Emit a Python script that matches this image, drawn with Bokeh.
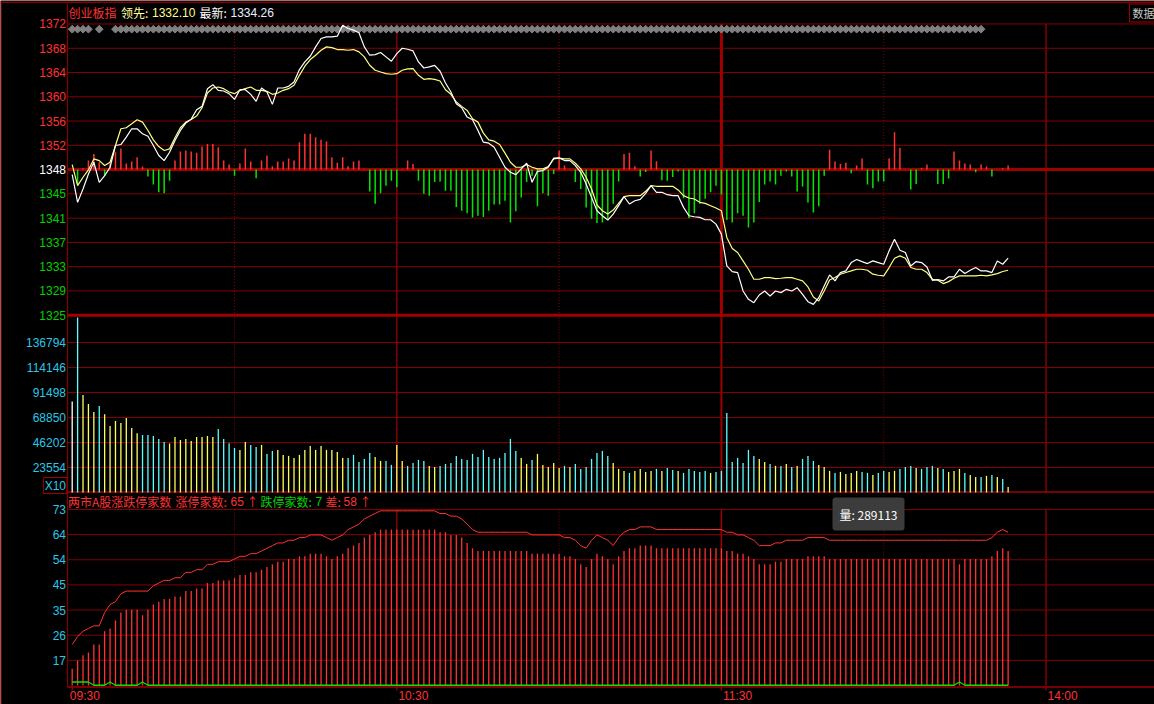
import numpy as np
from bokeh.plotting import figure
from bokeh.models import Range1d, Label
from bokeh.embed import file_html
from bokeh.resources import INLINE

# ---------------- data ----------------
index_name = "创业板指"
lead_text, lead_value = "领先:", "1332.10"
last_text, last_value = "最新:", "1334.26"
panel3_title = "两市A股涨跌停家数"
up_text, down_text, diff_text = "涨停家数:", "跌停家数:", "差:"
up_last, down_last, diff_last = "65", "7", "58"
tooltip_text = "量: 289113"
box_text = "数据"
vol_scale_text = "X10"

time_tick_idx = [0, 60, 120, 180]
time_tick_labels = ["09:30", "10:30", "11:30", "14:00"]
grid_dotted_idx = [30, 90, 150]
grid_solid_idx = [60, 180]
grid_break_idx = [120]

price_labels = ["1372", "1368", "1364", "1360", "1356", "1352", "1348",
                "1345", "1341", "1337", "1333", "1329", "1325"]
vol_labels = ["23554", "46202", "68850", "91498", "114146", "136794"]
cnt_labels = ["17", "26", "35", "45", "54", "64", "73"]

price = [1348.09, 1343.63, 1345.78, 1348.20, 1350.08, 1346.86, 1347.93, 1349.28, 1352.77, 1352.93,
         1354.11, 1355.46, 1355.46, 1354.65, 1354.27, 1352.77, 1351.16, 1350.35, 1351.69, 1353.57,
         1355.19, 1356.37, 1357.01, 1358.52, 1359.06, 1361.90, 1362.55, 1361.63, 1361.53, 1361.10,
         1360.18, 1361.74, 1361.74, 1360.99, 1359.86, 1362.01, 1361.37, 1359.38, 1362.01, 1362.01,
         1362.28, 1362.98, 1364.97, 1366.20, 1367.12, 1368.62, 1369.96, 1370.23, 1370.23, 1370.34,
         1372.11, 1371.58, 1371.31, 1370.88, 1368.62, 1367.28, 1367.38, 1367.71, 1367.01, 1366.31,
         1367.54, 1368.40, 1368.24, 1367.97, 1366.20, 1365.23, 1365.40, 1365.66, 1364.70, 1362.82,
         1361.37, 1359.49, 1358.84, 1357.34, 1356.91, 1355.19, 1353.31, 1353.15, 1352.50, 1350.89,
         1349.28, 1348.47, 1348.09, 1349.01, 1349.92, 1346.86, 1348.63, 1348.74, 1349.28, 1350.73,
         1350.78, 1350.35, 1350.35, 1349.54, 1348.47, 1346.59, 1344.44, 1342.29, 1341.48, 1340.79,
         1341.75, 1343.10, 1344.55, 1343.37, 1343.90, 1344.12, 1345.08, 1346.32, 1345.25, 1345.25,
         1344.87, 1344.71, 1344.71, 1342.83, 1341.48, 1341.32, 1341.22, 1340.84, 1340.84, 1340.14,
         1338.53, 1333.42, 1332.51, 1332.35, 1329.40, 1328.05, 1327.51, 1328.75, 1329.40, 1328.59,
         1329.40, 1329.13, 1329.66, 1329.40, 1329.93, 1328.86, 1327.67, 1327.24, 1328.32, 1330.20,
         1331.97, 1331.01, 1332.35, 1332.62, 1333.96, 1334.45, 1334.12, 1333.80, 1334.23, 1333.96,
         1333.69, 1335.84, 1337.72, 1335.95, 1335.57, 1333.42, 1334.12, 1333.96, 1333.26, 1331.11,
         1331.22, 1331.01, 1331.65, 1331.65, 1332.89, 1332.19, 1332.73, 1333.16, 1332.62, 1332.62,
         1332.35, 1334.23, 1333.69, 1334.66]

avg = [1349.71, 1346.32, 1347.67, 1348.85, 1350.62, 1350.35, 1349.55, 1350.09, 1352.77, 1355.46,
       1355.62, 1356.26, 1356.91, 1356.53, 1355.19, 1353.68, 1352.61, 1351.97, 1352.23, 1354.01,
       1355.62, 1356.53, 1356.96, 1357.50, 1358.84, 1361.21, 1362.01, 1362.17, 1361.91, 1361.37,
       1361.10, 1361.64, 1361.91, 1362.17, 1361.64, 1361.64, 1361.48, 1361.00, 1361.21, 1361.64,
       1361.91, 1362.44, 1364.05, 1365.51, 1366.58, 1367.28, 1368.08, 1368.62, 1368.51, 1368.19,
       1368.19, 1368.08, 1368.19, 1367.82, 1367.01, 1365.67, 1364.86, 1364.59, 1364.32, 1364.22,
       1364.32, 1364.86, 1365.08, 1365.13, 1364.05, 1363.41, 1363.52, 1363.41, 1363.14, 1361.74,
       1361.00, 1359.76, 1359.06, 1358.41, 1357.07, 1356.53, 1354.76, 1353.68, 1353.47, 1352.93,
       1351.54, 1350.09, 1349.28, 1349.28, 1349.71, 1349.28, 1349.01, 1349.01, 1349.39, 1350.62,
       1350.73, 1350.62, 1350.62, 1349.92, 1349.01, 1347.67, 1345.79, 1343.21, 1342.29, 1341.76,
       1342.40, 1343.48, 1344.55, 1344.71, 1344.71, 1344.71, 1345.41, 1346.32, 1346.22, 1346.22,
       1346.22, 1346.22, 1345.63, 1344.71, 1344.34, 1344.17, 1343.64, 1343.48, 1343.10, 1342.72,
       1342.29, 1337.99, 1336.22, 1335.58, 1334.23, 1332.89, 1331.28, 1331.28, 1331.55, 1331.55,
       1331.39, 1331.44, 1331.55, 1331.55, 1331.28, 1331.01, 1330.04, 1328.43, 1327.79, 1329.40,
       1331.17, 1331.55, 1332.09, 1332.36, 1332.62, 1332.89, 1332.89, 1332.73, 1332.09, 1331.92,
       1331.82, 1333.16, 1334.66, 1335.04, 1334.66, 1333.16, 1332.89, 1332.89, 1332.36, 1331.28,
       1331.12, 1330.58, 1330.90, 1331.44, 1331.82, 1331.82, 1331.82, 1331.82, 1331.92, 1331.82,
       1331.98, 1332.19, 1332.52, 1332.73]

force = [0, -2.3, 0.2, 1.45, 2.5, 1.2, -1.0, 1.0, 2.8, 3.4,
         1.0, 1.3, 2.0, 0.5, -1.1, -2.4, -3.65, -3.8, -1.8, 1.45,
         2.9, 3.06, 2.9, 2.7, 3.7, 4.1, 4.1, 3.6, 1.45, 0.8,
         -1.0, 1.0, 3.4, 1.3, -1.4, 1.45, 2.25, 0.54, 1.3, 1.3,
         1.8, 1.45, 4.4, 5.75, 5.75, 5.2, 4.8, 4.5, 2.0, 1.1,
         2.0, 0.54, 1.3, 1.45, 0.1, -3.5, -5.5, -3.8, -2.6, -1.8,
         -2.85, 0.1, 1.45, 0.9, -1.8, -3.9, -4.2, -2.0, -1.9, -3.4,
         -3.4, -6.0, -6.6, -7.0, -7.7, -7.4, -7.6, -6.6, -5.6, -5.6,
         -5.0, -8.5, -6.7, -4.5, -2.0, -1.0, -5.9, -3.8, -4.2, -0.7,
         3.06, 0.65, 0.05, -2.0, -3.1, -6.1, -7.9, -8.6, -8.5, -7.9,
         -5.5, -1.9, 2.5, 2.7, 0.54, -1.1, -0.4, 3.06, 1.35, -1.7,
         -1.8, -1.2, -0.3, -4.6, -7.8, -7.0, -5.5, -4.7, -3.65, -2.6,
         -4.0, -8.1, -8.5, -7.0, -7.4, -9.3, -8.5, -5.2, -2.4, -1.9,
         -2.4, -1.0, -0.3, -1.1, -3.5, -2.7, -5.3, -6.9, -5.9, -1.0,
         3.2, 1.3, 0.9, 1.1, -0.6, 0.65, 1.8, -2.4, -3.0, -1.9,
         -1.9, 1.8, 6.0, 3.5, 0.05, -3.2, -2.3, 0.3, 0.8, 0.05,
         -2.3, -2.3, -1.45, 2.9, 1.45, 1.0, 0.8, -0.43, 0.8, 0.5,
         -1.1, 0.05, 0.2, 0.65]

volume = [83250, 165000, 89320, 81170, 73900, 79340, 71830, 61240, 65770, 63960,
          68490, 59430, 54620, 53080, 53080, 52170, 49450, 46740, 45200, 51270,
          48560, 49450, 47650, 51270, 51270, 52170, 51270, 58520, 49450, 45560,
          41310, 39500, 46740, 44030, 42220, 44030, 35880, 38590, 39500, 34970,
          34060, 32250, 34970, 39500, 43120, 39500, 43120, 39500, 39500, 37680,
          32250, 32250, 34970, 28620, 31340, 36780, 33160, 29530, 29530, 25910,
          44030, 29530, 25000, 27720, 30440, 29530, 25000, 24090, 25000, 26810,
          27720, 34060, 31340, 30440, 35880, 33160, 39500, 33160, 31340, 32250,
          36780, 49450, 38590, 32250, 26810, 30440, 35880, 25906, 24097, 27720,
          23191, 25003, 24097, 26814, 22285, 24097, 31343, 36778, 38590, 34061,
          27720, 22285, 20473, 18661, 20473, 22285, 19567, 20473, 22285, 20473,
          23191, 21379, 20473, 18661, 22285, 20473, 19567, 20473, 18661, 19567,
          20473, 73015, 28626, 32249, 27720, 39496, 34061, 31343, 28626, 26814,
          25003, 25003, 26814, 24097, 25003, 31343, 34061, 29532, 25906, 24097,
          20473, 18661, 19567, 17755, 18661, 20473, 19567, 18661, 16849, 18661,
          20473, 19567, 20473, 22285, 24097, 25003, 23191, 22285, 24097, 25003,
          23191, 22285, 19567, 20473, 22285, 18661, 16849, 15037, 15037, 15943,
          16849, 15037, 13226, 5979]

up_cnt = [23, 26, 28, 29, 30, 30, 35, 38, 39, 42,
          43, 43, 43, 43, 43, 45, 46, 47, 47, 48,
          48, 50, 50, 51, 51, 53, 53, 54, 54, 54,
          55, 56, 56, 57, 57, 58, 59, 60, 61, 61,
          62, 62, 63, 63, 64, 64, 64, 63, 62, 63,
          64, 66, 67, 68, 70, 71, 72, 73, 73, 73,
          73, 73, 73, 73, 73, 73, 73, 73, 72, 72,
          71, 71, 70, 68, 66, 65, 65, 65, 65, 65,
          65, 65, 65, 65, 65, 64, 64, 64, 64, 64,
          64, 63, 63, 62, 60, 59, 62, 64, 63, 62,
          60, 63, 65, 66, 66, 67, 67, 67, 66, 66,
          66, 66, 66, 66, 66, 66, 66, 66, 66, 66,
          66, 65, 65, 64, 64, 63, 62, 60, 60, 60,
          61, 61, 62, 62, 62, 62, 63, 63, 63, 63,
          62, 62, 62, 62, 62, 62, 62, 62, 62, 62,
          62, 62, 62, 62, 62, 62, 62, 62, 62, 62,
          62, 62, 62, 62, 62, 62, 62, 62, 62, 62,
          63, 65, 66, 65]

down_cnt = [9, 9, 9, 9, 7, 7, 7, 9, 7, 7,
            7, 7, 7, 9, 7, 7, 7, 7, 7, 7,
            7, 7, 7, 7, 7, 7, 7, 7, 7, 7,
            7, 7, 7, 7, 7, 7, 7, 7, 7, 7,
            7, 7, 7, 7, 7, 7, 7, 7, 7, 7,
            7, 7, 7, 7, 7, 7, 7, 7, 7, 7,
            7, 7, 7, 7, 7, 7, 7, 7, 7, 7,
            7, 7, 7, 7, 7, 7, 7, 7, 7, 7,
            7, 7, 7, 7, 7, 7, 7, 7, 7, 7,
            7, 7, 7, 7, 7, 7, 7, 7, 7, 7,
            7, 7, 7, 7, 7, 7, 7, 7, 7, 7,
            7, 7, 7, 7, 7, 7, 7, 7, 7, 7,
            7, 7, 7, 7, 7, 7, 7, 7, 7, 7,
            7, 7, 7, 7, 7, 7, 7, 7, 7, 7,
            7, 7, 7, 7, 7, 7, 7, 7, 7, 7,
            7, 7, 7, 7, 7, 7, 7, 7, 7, 7,
            7, 7, 7, 7, 9, 7, 7, 7, 7, 7,
            7, 7, 7, 7]

diamond_idx = [0, 1, 2, 3, 5] + list(range(8, 169))

# value scales of the three panels (centre/base and grid step)
PRE_CLOSE, P_STEP = 1348.9, 3.9
VOL_BASE, VOL_STEP = 906, 22648
CNT_BASE, CNT_STEP = 7.7, 9.4

# ---------------- styling / geometry ----------------
BG = "#000000"
GRID = "#840000"
GRID_THICK = "#A00000"
RED = "#FF3232"
GREEN = "#00D200"
GREEN_BAR = "#00E600"
CYAN_TXT = "#28C8E6"
AVG_COL = "#FFFF80"
VOL_UP = "#FFFF5A"
VOL_DN = "#5AFFFF"
DIAMOND = "#808080"
NUM_FONT = "Liberation Sans"
CJK_FONT = "Noto Sans CJK SC"

W, H = 1154, 704
LEFT = 67
X0, PPM = 71.7, 5.41          # pixel of minute 0, pixels per minute


def kx(px):
    return (px - X0) / PPM


P_Y0, P_PX = 169.1, 24.27


def y1(py):   # price panel, pixel row -> value
    return PRE_CLOSE + (P_Y0 - py) / P_PX * P_STEP


def y2(py):   # volume panel
    return VOL_BASE + (492 - py) / 25.0 * VOL_STEP


def y3(py):   # limit-up/down panel
    return CNT_BASE + (685 - py) / (176 / 7) * CNT_STEP


XL, XR = kx(LEFT), kx(W)

p = figure(width=W, height=H, x_range=Range1d(kx(0), kx(W)), y_range=Range1d(y1(H), y1(0)),
           output_backend="svg", toolbar_location=None, x_axis_location=None,
           y_axis_location=None, min_border=0, min_border_left=0, min_border_right=0,
           min_border_top=0, min_border_bottom=0, background_fill_color=BG,
           border_fill_color=BG, outline_line_color=None)
p.grid.visible = False
p.extra_y_ranges = {"vol": Range1d(y2(H), y2(0)), "cnt": Range1d(y3(H), y3(0))}


def hline(vals, rng, **kw):
    p.segment(x0=XL, x1=XR, y0=vals, y1=vals, y_range_name=rng, **kw)


def vlines(ptop, pbot, wbreak):
    a, b = y1(ptop), y1(pbot)
    p.segment(x0=grid_dotted_idx, x1=grid_dotted_idx, y0=a, y1=b, color=GRID,
              line_width=1, line_dash="1 2")
    p.segment(x0=grid_solid_idx, x1=grid_solid_idx, y0=a, y1=b, color=GRID, line_width=1.5)
    p.segment(x0=grid_break_idx, x1=grid_break_idx, y0=a, y1=b, color=GRID_THICK,
              line_width=wbreak)


# ---------------- frame lines ----------------
p.segment(x0=kx(0), x1=XR, y0=y1(1.7), y1=y1(1.7), color=GRID, line_width=1.5)
p.segment(x0=[XL, kx(0.7)], x1=[XL, kx(0.7)], y0=y1(1.7), y1=[y1(687), y1(H)], color=GRID,
          line_width=1.2)
vlines(23.5, 317, 3)
vlines(317, 492, 2)
vlines(509, 685, 1.5)
p.segment(x0=time_tick_idx, x1=time_tick_idx, y0=y1(686), y1=y1(690), color=GRID_THICK,
          line_width=1.2)

# ---------------- price panel ----------------
hline([PRE_CLOSE + k * P_STEP for k in range(-5, 7) if k != 0], "default",
      color=GRID, line_width=1)
hline([PRE_CLOSE, PRE_CLOSE - 6 * P_STEP], "default", color=GRID_THICK, line_width=3)

ks = np.arange(len(price))
f = np.array(force)
pos = f > 0
neg = f < 0
p.segment(x0=ks[pos], y0=PRE_CLOSE, x1=ks[pos], y1=PRE_CLOSE + f[pos], color=RED,
          line_width=1.5)
p.segment(x0=ks[neg], y0=PRE_CLOSE, x1=ks[neg], y1=PRE_CLOSE + f[neg], color=GREEN_BAR,
          line_width=1.5)
p.scatter(x=diamond_idx, y=y1(28.7), marker="square", angle=np.pi / 4, size=5.5,
          color=DIAMOND)
p.line(ks, avg, color=AVG_COL, line_width=1.2)
p.line(ks, price, color="#FFFFFF", line_width=1.2)

for i, lab in enumerate(price_labels):
    k = 6 - i
    col = RED if k > 0 else ("#FFFFFF" if k == 0 else GREEN)
    p.add_layout(Label(x=kx(65.5), y=PRE_CLOSE + k * P_STEP, text=lab, text_align="right",
                       text_baseline="middle", text_color=col, text_font=NUM_FONT,
                       text_font_size="12px"))

hy = y1(12)
for txt, px, col, fnt in ((index_name, 68, RED, CJK_FONT),
                          (lead_text, 120.5, "#FFFF9A", CJK_FONT),
                          (lead_value, 151.5, "#FFFF80", NUM_FONT),
                          (last_text, 199, "#FFFFFF", CJK_FONT),
                          (last_value, 230, "#E6F0FF", NUM_FONT)):
    p.add_layout(Label(x=kx(px), y=hy, text=txt, text_align="left", text_baseline="middle",
                       text_color=col, text_font=fnt, text_font_size="12px"))
p.add_layout(Label(x=kx(1129), y=y1(12.5), text=box_text, text_align="left",
                   text_baseline="middle", text_color="#C8C8C8", text_font=CJK_FONT,
                   text_font_size="11px", border_line_color=GRID_THICK,
                   background_fill_color=BG, padding=(3, 1)))

# ---------------- volume panel ----------------
vk = [VOL_BASE + k * VOL_STEP for k in range(1, 7)]
hline(vk, "vol", color=GRID, line_width=1)
hline([y2(491.5)], "vol", color=GRID_THICK, line_width=1.5)

vol_top = VOL_BASE + 7 * VOL_STEP
vol_cols = ["#FFFFFF"] + [VOL_UP if price[i] >= price[i - 1] else VOL_DN
                          for i in range(1, len(price))]
p.segment(x0=ks, y0=VOL_BASE, x1=ks, y1=np.minimum(volume, vol_top), color=vol_cols,
          line_width=1.3, y_range_name="vol")
for i, lab in enumerate(vol_labels):
    p.add_layout(Label(x=kx(65.5), y=vk[i], y_range_name="vol", text=lab,
                       text_align="right", text_baseline="middle", text_color=CYAN_TXT,
                       text_font=NUM_FONT, text_font_size="12px"))
p.add_layout(Label(x=kx(66.5), y=y2(485), y_range_name="vol", text=vol_scale_text,
                   text_align="right", text_baseline="middle", text_color=CYAN_TXT,
                   text_font=NUM_FONT, text_font_size="12px", border_line_color=GRID_THICK,
                   padding=1))

# ---------------- limit-up / limit-down panel ----------------
ck = [CNT_BASE + k * CNT_STEP for k in range(1, 8)]
hline(ck, "cnt", color=GRID, line_width=1)
hline([y3(686.5)], "cnt", color=GRID_THICK, line_width=1.5)

up = np.array(up_cnt)
dn = np.array(down_cnt)
diff = up - dn
p.segment(x0=ks, y0=CNT_BASE, x1=ks, y1=diff, color=RED, line_width=1.3, y_range_name="cnt")
p.line(ks, up, color=RED, line_width=1, y_range_name="cnt")
p.line(ks, np.maximum(dn, CNT_BASE + 0.1), color=GREEN_BAR, line_width=1.3,
       y_range_name="cnt")
for i, lab in enumerate(cnt_labels):
    p.add_layout(Label(x=kx(65.5), y=ck[i], y_range_name="cnt", text=lab,
                       text_align="right", text_baseline="middle", text_color=CYAN_TXT,
                       text_font=NUM_FONT, text_font_size="12px"))
for k, lab in zip(time_tick_idx, time_tick_labels):
    lx = kx(69.3) if k == time_tick_idx[0] else k + 0.3
    p.add_layout(Label(x=lx, y=y3(695), y_range_name="cnt", text=lab,
                       text_align="left", text_baseline="middle", text_color=RED,
                       text_font=NUM_FONT, text_font_size="12px"))

ty = y3(501)
for txt, px, col, fnt in ((panel3_title, 67.5, RED, CJK_FONT),
                          (up_text, 175, RED, CJK_FONT),
                          (up_last, 230, RED, NUM_FONT),
                          ("↑", 246, RED, CJK_FONT),
                          (down_text, 260, GREEN, CJK_FONT),
                          (down_last, 315, GREEN, NUM_FONT),
                          (diff_text, 325, RED, CJK_FONT),
                          (diff_last, 343, RED, NUM_FONT),
                          ("↑", 359, RED, CJK_FONT)):
    p.add_layout(Label(x=kx(px), y=ty, y_range_name="cnt", text=txt, text_align="left",
                       text_baseline="middle", text_color=col, text_font=fnt,
                       text_font_size="12px"))

p.add_layout(Label(x=kx(832), y=y3(513.5), y_range_name="cnt", text=tooltip_text,
                   text_align="left", text_baseline="middle", text_color="#FFFFFF",
                   text_font=CJK_FONT, text_font_size="12px", background_fill_color="#3C3C3C",
                   padding=(7, 8), border_radius=3))

open("out.html", "w").write(file_html(p, INLINE))
